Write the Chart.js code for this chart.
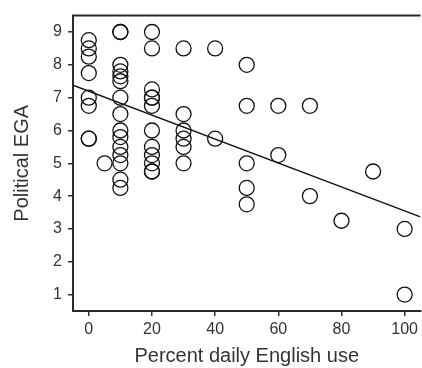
<!DOCTYPE html>
<html>
<head>
<meta charset="utf-8">
<script src="https://cdn.jsdelivr.net/npm/chart.js@4"></script>
<style>
  html, body { margin: 0; padding: 0; background: #fff; }
  #wrap { width: 422px; height: 368px; }
</style>
</head>
<body>
<div id="wrap"><canvas id="myChart" width="422" height="368"></canvas></div>
<script>
// data
var englishUse = [
  0, 0, 0, 0, 0, 0, 0, 0,
  5,
  10, 10, 10, 10, 10, 10, 10, 10, 10, 10, 10, 10, 10, 10, 10,
  20, 20, 20, 20, 20, 20, 20, 20, 20, 20, 20, 20,
  30, 30, 30, 30, 30, 30,
  40, 40,
  50, 50, 50, 50, 50,
  60, 60,
  70, 70,
  80,
  90,
  100, 100
];
var politicalEga = [
  8.75, 8.5, 8.25, 7.75, 7.0, 6.75, 5.75, 5.75,
  5.0,
  9.0, 9.0, 8.0, 7.8, 7.65, 7.5, 7.0, 6.5, 6.0, 5.8, 5.5, 5.25, 5.0, 4.5, 4.25,
  9.0, 8.5, 7.25, 7.0, 7.0, 6.75, 6.0, 5.5, 5.25, 5.0, 4.75, 4.75,
  8.5, 6.5, 6.0, 5.75, 5.5, 5.0,
  8.5, 5.75,
  8.0, 6.75, 5.0, 4.25, 3.75,
  6.75, 5.25,
  6.75, 4.0,
  3.25,
  4.75,
  3.0, 1.0
];
// fitted line, read at both ends of the x range
var fitX = [-5, 105];
var fitY = [7.38, 3.37];

var xTicks = [0, 20, 40, 60, 80, 100];
var yTicks = [1, 2, 3, 4, 5, 6, 7, 8, 9];

var points = englishUse.map(function (x, i) {
  return { x: x, y: politicalEga[i] };
});
var fitLine = fitX.map(function (x, i) {
  return { x: x, y: fitY[i] };
});

//top frame line
var topFrame = {
  id: "topFrame",
  afterDraw: function (chart) {
    var ctx = chart.ctx;
    var a = chart.chartArea;
    ctx.save();
    ctx.strokeStyle = "#2b2b2b";
    ctx.lineWidth = 2;
    ctx.beginPath();
    ctx.moveTo(a.left - 1, a.top);
    ctx.lineTo(a.right, a.top);
    ctx.stroke();
    ctx.restore();
  },
};

var chart1 = document.getElementById("myChart").getContext("2d");

var myChart = new Chart(chart1, {
  type: "scatter",
  data: {
    datasets: [
      {
        label: "fit",
        type: "line",
        data: fitLine,
        borderColor: "#111",
        borderWidth: 1.3,
        pointRadius: 0,
        fill: false,
      },
      {
        label: "points",
        data: points,
        pointRadius: 7.5,
        pointHoverRadius: 7.5,
        borderColor: "#111",
        borderWidth: 1.3,
        backgroundColor: "rgba(0,0,0,0)",
      },
    ],
  },
  options: {
    responsive: false,
    animation: false,
    events: [],
    layout: { autoPadding: false, padding: { top: 11, right: 0, bottom: 0, left: 0 } },
    plugins: { legend: { display: false }, tooltip: { enabled: false } },
    scales: {
      x: {
        type: "linear",
        min: -5,
        max: 105,
        afterBuildTicks: function (scale) {
          scale.ticks = xTicks.map(function (v) { return { value: v }; });
        },
        afterFit: function (scale) { scale.height = 57; },
        border: { display: true, color: "#2b2b2b", width: 2 },
        grid: { drawOnChartArea: false, drawTicks: true, tickLength: 5, color: "#333", lineWidth: 1.5 },
        ticks: { color: "#333", padding: 4, maxRotation: 0, font: { family: "Liberation Sans", size: 16 } },
        title: {
          display: true,
          text: "Percent daily English use",
          color: "#333",
          padding: 0,
          font: { family: "Liberation Sans", size: 20 },
        },
      },
      y: {
        type: "linear",
        min: 0.5,
        max: 9.5,
        afterBuildTicks: function (scale) {
          scale.ticks = yTicks.map(function (v) { return { value: v }; });
        },
        afterFit: function (scale) { scale.width = 73; },
        border: { display: true, color: "#2b2b2b", width: 2 },
        grid: { drawOnChartArea: false, drawTicks: true, tickLength: 5, color: "#333", lineWidth: 1.5 },
        ticks: { color: "#333", padding: 6, font: { family: "Liberation Sans", size: 16 } },
        title: {
          display: true,
          text: "Political EGA",
          color: "#333",
          padding: { top: 10, bottom: 0 },
          font: { family: "Liberation Sans", size: 20 },
        },
      },
    },
  },
  plugins: [topFrame],
});
</script>
</body>
</html>
